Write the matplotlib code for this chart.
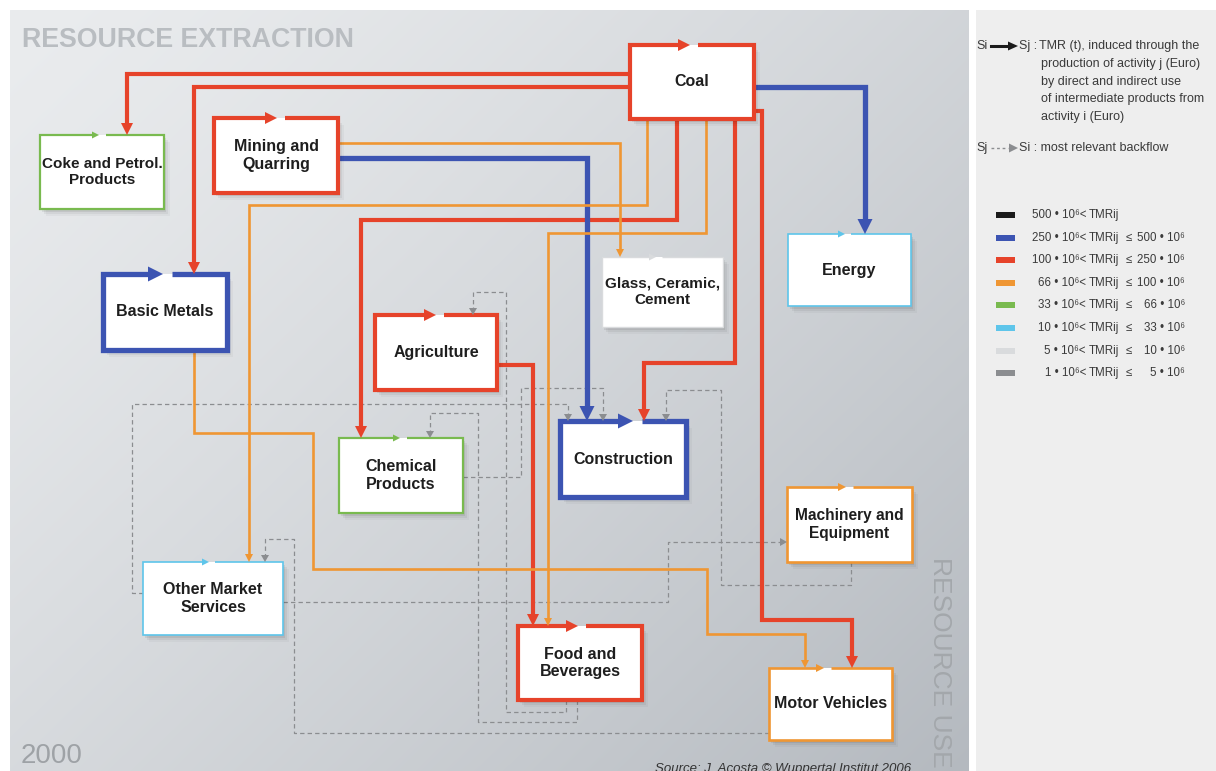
import numpy as np
import matplotlib
matplotlib.use('Agg')
import matplotlib.pyplot as plt
from matplotlib.patches import Rectangle, Polygon

FONT = ['Liberation Sans', 'DejaVu Sans']

# ── TMR class colours ──────────────────────────────────────────────────────
CLS_COLOR = {'black': '#1b1b1b', 'blue': '#3c54b2', 'red': '#e6432a',
             'orange': '#ef9633', 'green': '#79ba4f', 'cyan': '#5ec5ea',
             'lgray': '#d9dbdd', 'gray': '#8b8d90'}
CLS_LW = {'blue': 3.8, 'red': 3.0, 'orange': 1.9, 'green': 1.6,
          'cyan': 1.2, 'lgray': 1.0, 'gray': 0.9}
CLS_HEAD = {'blue': (15, 15), 'red': (12, 12), 'orange': (8, 8),
            'green': (7, 7), 'cyan': (7, 7), 'lgray': (7, 7), 'gray': (7, 8)}

# ── sectors (boxes) ────────────────────────────────────────────────────────
SECTORS = ['Coal', 'Coke and Petrol.\nProducts', 'Mining and\nQuarring',
           'Basic Metals', 'Glass, Ceramic,\nCement', 'Energy', 'Agriculture',
           'Chemical\nProducts', 'Construction', 'Machinery and\nEquipment',
           'Other Market\nServices', 'Food and\nBeverages', 'Motor Vehicles']
SECTOR_CLASS = ['red', 'green', 'red', 'blue', 'lgray', 'cyan', 'red',
                'green', 'blue', 'orange', 'cyan', 'red', 'orange']
# layout (pixels)
BOX = [(630, 45, 754, 119), (40, 135, 164, 209), (214, 118, 338, 193),
       (103, 274, 227, 350), (602, 257, 723, 327), (788, 234, 911, 306),
       (375, 315, 497, 390), (339, 438, 463, 513), (560, 421, 686, 497),
       (787, 487, 912, 562), (143, 562, 283, 635), (518, 626, 642, 700),
       (769, 668, 892, 740)]
SELF_TIP = [690, 99, 277, 163, 656, 845, 436, 400, 633, 846, 209, 578, 824]
LABEL_SIZE = [11.5, 11, 11.5, 11.5, 11, 11.5, 11.5, 11.5, 11.5, 11.2, 11.5, 11.5, 11.5]

# ── flows (TMR induced, solid) and backflows (dashed) ──────────────────────
FLOWS = [
    ('red', [(630, 74), (127, 74), (127, 135)]),                 # Coal -> Coke
    ('red', [(630, 87), (194, 87), (194, 274)]),                 # Coal -> Basic Metals
    ('red', [(677, 119), (677, 220), (361, 220), (361, 438)]),   # Coal -> Chemical
    ('red', [(735, 119), (735, 363), (644, 363), (644, 421)]),   # Coal -> Construction
    ('red', [(754, 111), (762, 111), (762, 620), (852, 620), (852, 668)]),  # Coal -> Motor
    ('red', [(497, 365), (533, 365), (533, 626)]),               # Agriculture -> Food
    ('blue', [(754, 87), (865, 87), (865, 234)]),                # Coal -> Energy
    ('blue', [(338, 158), (587, 158), (587, 421)]),              # Mining -> Construction
    ('orange', [(338, 143), (620, 143), (620, 257)]),            # Mining -> Glass
    ('orange', [(647, 119), (647, 205), (249, 205), (249, 562)]),  # Coal -> Other
    ('orange', [(706, 119), (706, 233), (548, 233), (548, 626)]),  # Coal -> Food
    ('orange', [(194, 350), (194, 433), (313, 433), (313, 569), (707, 569),
                (707, 634), (805, 634), (805, 668)]),            # Basic Metals -> Motor
]
BACKFLOWS = [
    [(566, 700), (566, 712), (506, 712), (506, 292), (473, 292), (473, 315)],
    [(577, 700), (577, 722), (478, 722), (478, 413), (430, 413), (430, 438)],
    [(143, 593), (132, 593), (132, 404), (568, 404), (568, 421)],
    [(769, 733), (294, 733), (294, 539), (265, 539), (265, 562)],
    [(283, 602), (668, 602), (668, 542), (787, 542)],
    [(851, 562), (851, 585), (721, 585), (721, 390), (666, 390), (666, 421)],
    [(463, 477), (521, 477), (521, 388), (603, 388), (603, 421)],
]

# ── legend classes ─────────────────────────────────────────────────────────
LEG_CLASS = ['black', 'blue', 'red', 'orange', 'green', 'cyan', 'lgray', 'gray']
LEG_LO = ['500', '250', '100', '66', '33', '10', '5', '1']
LEG_HI = ['', '500', '250', '100', '66', '33', '10', '5']
LEG_NOTE = ['TMR (t), induced through the', 'production of activity j (Euro)',
            'by direct and indirect use', 'of intermediate products from',
            'activity i (Euro)']

fig = plt.figure(figsize=(12.16, 7.71), dpi=100)
ax = fig.add_axes([0, 0, 1, 1])
ax.set_xlim(0, 1216); ax.set_ylim(771, 0); ax.axis('off')


def head(tip, d, hl, hw, color, z=7):
    tip = np.asarray(tip, float)
    base = tip - d * hl
    perp = np.array([-d[1], d[0]])
    ax.add_patch(Polygon([tip, base + perp * hw / 2, base - perp * hw / 2],
                         closed=True, fc=color, ec='none', zorder=z))
    return base


def path(pts, cls, dashed=False):
    pts = np.array(pts, float)
    col = CLS_COLOR[cls]; hl, hw = CLS_HEAD[cls]
    d = pts[-1] - pts[-2]; d = d / np.hypot(*d)
    base = head(pts[-1], d, hl, hw, col)
    ln = np.vstack([pts[:-1], base])
    ax.plot(ln[:, 0], ln[:, 1], color=col, lw=CLS_LW[cls],
            ls=(0, (3.5, 2.5)) if dashed else '-',
            solid_joinstyle='miter', solid_capstyle='butt',
            dash_capstyle='butt', zorder=2 if dashed else 3)


# background panels
H, W = 761, 959
yy, xx = np.mgrid[0:H, 0:W]
t = np.clip(0.55 * xx / W + 0.45 * yy / H, 0, 1)
c0 = np.array([234, 236, 238]) / 255; c1 = np.array([180, 185, 191]) / 255
ax.imshow(c0 + (c1 - c0) * (t ** 1.3)[..., None], extent=(10, 969, 771, 10),
          aspect='auto', zorder=0)
ax.add_patch(Rectangle((976, 10), 240, 761, fc='#eeeeee', ec='none', zorder=0))

ax.text(22, 40, 'RESOURCE EXTRACTION', family=FONT, fontsize=19.3, weight='bold',
        color='#b9bdc1', va='center', ha='left', zorder=1)
ax.text(21, 756, '2000', family=FONT, fontsize=20, color='#9ea2a6',
        va='center', ha='left', zorder=1)
ax.text(940, 662, 'RESOURCE USE', family=FONT, fontsize=19, color='#a3a7ab',
        rotation=270, va='center', ha='center', zorder=1)
ax.text(655, 769, 'Source: J. Acosta © Wuppertal Institut 2006', family=FONT,
        fontsize=9.5, style='italic', color='#333333', va='center', zorder=1)

for cls, pts in FLOWS:
    path(pts, cls)
for pts in BACKFLOWS:
    path(pts, 'gray', dashed=True)

# boxes
for name, cls, (x0, y0, x1, y1), tip, fs in zip(SECTORS, SECTOR_CLASS, BOX,
                                                 SELF_TIP, LABEL_SIZE):
    col = CLS_COLOR[cls]; hl, hw = CLS_HEAD[cls]
    for k, a in enumerate([0.07, 0.05, 0.03]):
        ax.add_patch(Rectangle((x0 + 2 + 2 * k, y0 + 3 + 2 * k), x1 - x0, y1 - y0,
                               fc='black', ec='none', alpha=a, zorder=3.5))
    ax.add_patch(Rectangle((x0, y0), x1 - x0, y1 - y0, fc='white', ec='none', zorder=4))
    gap = 5 + CLS_LW[cls]
    bx = [tip + gap, x1, x1, x0, x0, tip - hl]
    by = [y0, y0, y1, y1, y0, y0]
    ax.plot(bx, by, color=col, lw=CLS_LW[cls], solid_joinstyle='miter',
            solid_capstyle='butt', zorder=5)
    head((tip, y0), np.array([1.0, 0.0]), hl, hw, col, z=6)
    ax.text((x0 + x1) / 2, (y0 + y1) / 2, name, family=FONT, fontsize=fs,
            weight='bold', color='#1e1e1e', ha='center', va='center',
            linespacing=1.2, zorder=8)

# legend panel
LC = '#3a3a3a'
ax.text(976, 46, 'Si', family=FONT, fontsize=9, color=LC, va='center')
ax.plot([991, 1008], [46, 46], color=CLS_COLOR['black'], lw=2.2, zorder=3)
head((1018, 46), np.array([1.0, 0.0]), 10, 9, CLS_COLOR['black'])
ax.text(1019, 46, 'Sj :', family=FONT, fontsize=9, color=LC, va='center')
for i, s in enumerate(LEG_NOTE):
    ax.text(1039 if i == 0 else 1041, 46 + 17.8 * i, s, family=FONT,
            fontsize=9, color=LC, va='center')
ax.text(976, 148, 'Sj', family=FONT, fontsize=9, color=LC, va='center')
ax.plot([991, 1008], [148, 148], color=CLS_COLOR['gray'], lw=1.0,
        ls=(0, (2, 2)), zorder=3)
head((1018, 148), np.array([1.0, 0.0]), 9, 9, CLS_COLOR['gray'])
ax.text(1019, 148, 'Si : most relevant backflow', family=FONT, fontsize=9,
        color=LC, va='center')

for i, (cls, lo, hi) in enumerate(zip(LEG_CLASS, LEG_LO, LEG_HI)):
    y = 215 + 22.6 * i
    ax.add_patch(Rectangle((996, y - 3), 19, 6, fc=CLS_COLOR[cls], ec='none', zorder=3))
    ax.text(1086, y, f'{lo} • 10⁶<', family=FONT, fontsize=8.3, color=LC,
            ha='right', va='center')
    ax.text(1089, y, 'TMRij', family=FONT, fontsize=8.3, color=LC,
            ha='left', va='center')
    if hi:
        ax.text(1126, y, '≤', family=FONT, fontsize=8.3, color=LC,
                ha='left', va='center')
        ax.text(1185, y, f'{hi} • 10⁶', family=FONT, fontsize=8.3, color=LC,
                ha='right', va='center')

plt.savefig('out.png', dpi=100, facecolor='white')
